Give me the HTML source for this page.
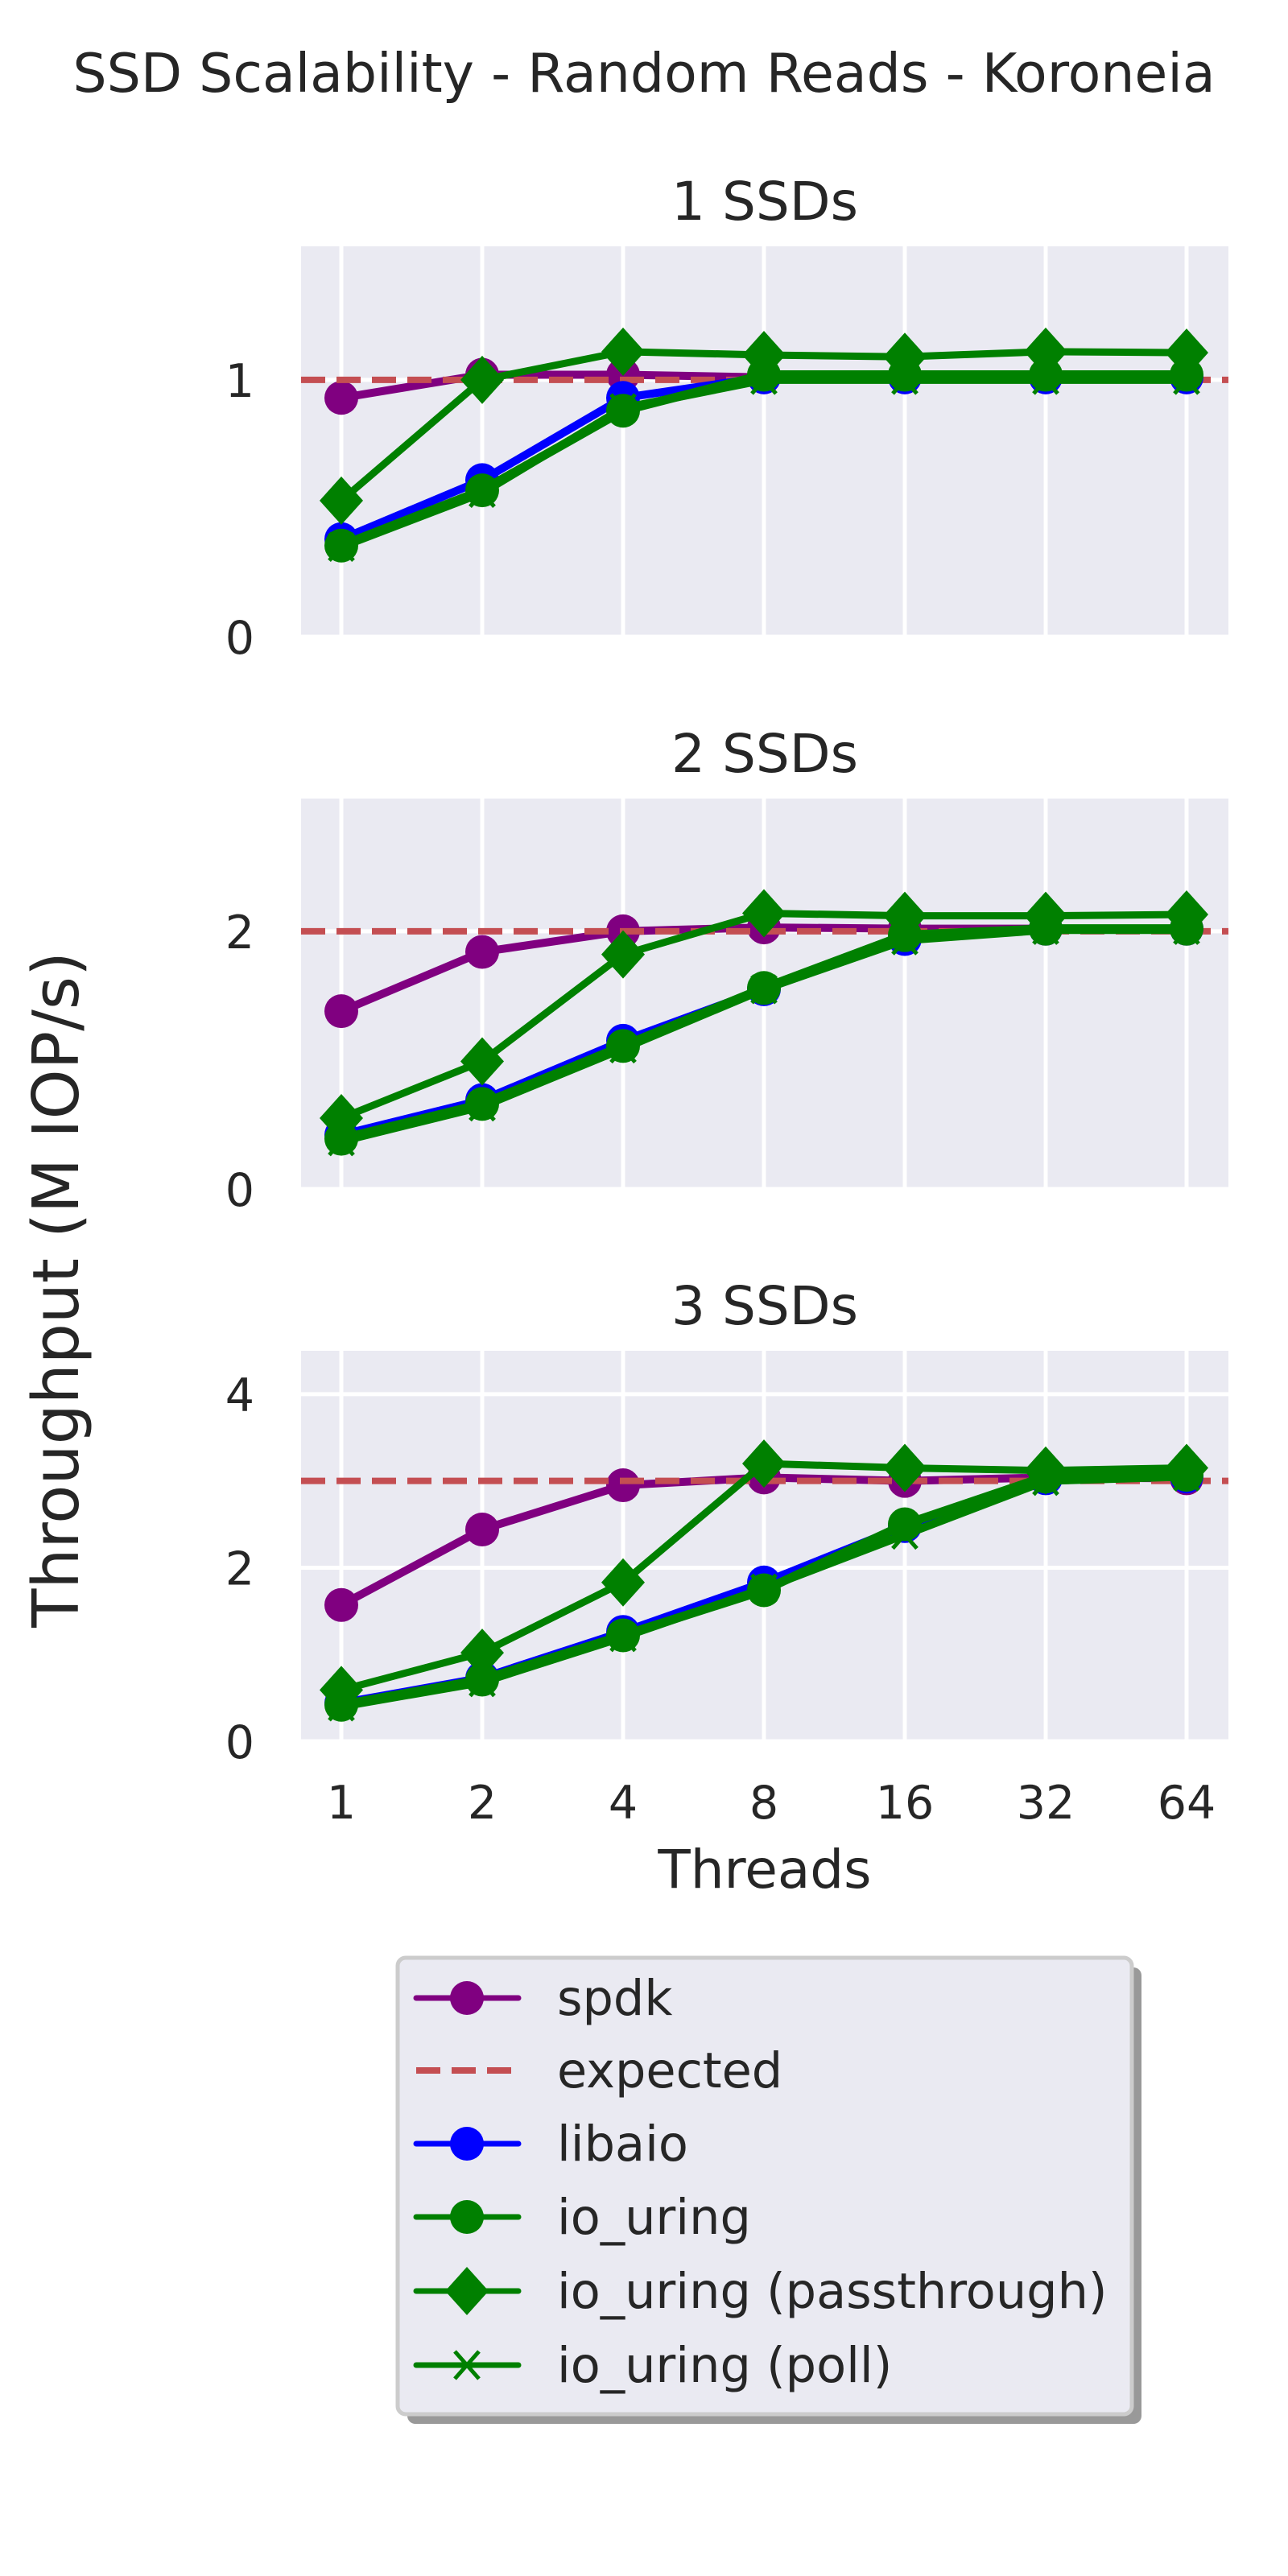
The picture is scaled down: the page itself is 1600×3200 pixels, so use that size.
<!DOCTYPE html>
<html><head><meta charset="utf-8"><style>
body{margin:0;background:#fff}
svg{display:block}
text{font-family:"DejaVu Sans","Liberation Sans",sans-serif;fill:#262626}
</style></head><body>
<svg id="chart" width="1600" height="3200" viewBox="0 0 1600 3200" xmlns="http://www.w3.org/2000/svg">
<text x="800" y="114" font-size="66.5" text-anchor="middle">SSD Scalability - Random Reads - Koroneia</text>
<text transform="translate(70,1602) rotate(-90)" font-size="79" text-anchor="middle" dominant-baseline="central">Throughput (M IOP/s)</text>
<text x="950" y="2345" font-size="66" text-anchor="middle">Threads</text>
<g id="panels"></g>
<g id="legend"></g>
</svg>
<script>
const categories = ["1","2","4","8","16","32","64"];
const panelTitles = ["1 SSDs","2 SSDs","3 SSDs"];
const yMax = [1.52, 3.03, 4.5];
const yTicks = [[0,1],[0,2],[0,2,4]];
const expected = [1, 2, 3];
const spdk = [
 [0.93,1.02,1.02,1.01,1.01,1.01,1.01],
 [1.38,1.84,2.0,2.03,2.02,2.02,2.02],
 [1.57,2.44,2.95,3.04,3.0,3.04,3.03]];
const libaio = [
 [0.38,0.61,0.93,1.01,1.01,1.01,1.01],
 [0.42,0.69,1.15,1.55,1.94,2.02,2.02],
 [0.44,0.73,1.26,1.83,2.48,3.03,3.05]];
const iouring = [
 [0.355,0.57,0.88,1.02,1.02,1.02,1.02],
 [0.39,0.66,1.11,1.56,1.97,2.02,2.02],
 [0.42,0.71,1.22,1.74,2.5,3.05,3.07]];
const passthrough = [
 [0.53,1.0,1.11,1.097,1.09,1.11,1.106],
 [0.55,0.99,1.82,2.14,2.12,2.12,2.13],
 [0.59,1.02,1.83,3.2,3.15,3.12,3.15]];
const poll = [
 [0.35,0.56,0.89,1.0,1.0,1.0,1.0],
 [0.37,0.64,1.09,1.55,1.93,2.01,2.01],
 [0.4,0.68,1.2,1.76,2.38,3.0,3.05]];

const NS="http://www.w3.org/2000/svg";
const PL=374, PR=1526, PH=485, panelTops=[306,992,1678];
function mk(tag, attrs, parent){const e=document.createElementNS(NS,tag);for(const k in attrs)e.setAttribute(k,attrs[k]);parent.appendChild(e);return e;}
function xPos(i){return PL+50+i*(PR-PL-102)/(categories.length-1);}
const panels=document.getElementById('panels');

function marker(g,type,x,y,color){
  let m;
  if(type==='o'){m=mk('ellipse',{cx:x,cy:y,rx:21,ry:21,fill:color},g);}
  else if(type==='d'){m=mk('polygon',{points:`${x},${y-30} ${x+27},${y} ${x},${y+30} ${x-27},${y}`,fill:color},g);}
  else {m=mk('path',{d:`M${x-15},${y-17}L${x+15},${y+17}M${x-15},${y+17}L${x+15},${y-17}`,stroke:color,'stroke-width':5,fill:'none'},g);}
  return m;
}
function series(g,vals,yS,color,mtype,lw,name){
  const sg=mk('g',{},g);
  
  
  const pts=vals.map((v,i)=>xPos(i)+','+yS(v)).join(' ');
  mk('polyline',{points:pts,fill:'none',stroke:color,'stroke-width':lw,'stroke-linejoin':'round'},sg);
  vals.forEach((v,i)=>{const m=marker(sg,mtype,xPos(i),yS(v),color);
    
    });
}

panelTitles.forEach((t,p)=>{
  const top=panelTops[p], bot=top+PH;
  const yS=v=>bot-v/yMax[p]*PH;
  const g=mk('g',{},panels);
  
  
  const bg=mk('rect',{x:PL,y:top,width:PR-PL,height:PH,fill:'#EAEAF2'},g);
  
  
  categories.forEach((c,i)=>{mk('line',{x1:xPos(i),x2:xPos(i),y1:top,y2:bot,stroke:'#fff','stroke-width':5},g);});
  yTicks[p].forEach(v=>{
    mk('line',{x1:PL,x2:PR,y1:yS(v),y2:yS(v),stroke:'#fff','stroke-width':5},g);
    const tl=mk('text',{x:316,y:yS(v)+21,'font-size':57,'text-anchor':'end'},g);
    tl.textContent=v;
    
    
  });
  const tt=mk('text',{x:(PL+PR)/2,y:top-33,'font-size':66,'text-anchor':'middle'},g);
  tt.textContent=t;
  
  
  series(g,spdk[p],yS,'#800080','o',10,'spdk-line');
  const ex=mk('line',{x1:PL,x2:PR,y1:yS(expected[p]),y2:yS(expected[p]),stroke:'#C44E52','stroke-width':8,'stroke-dasharray':'30 14'},g);
  
  
  series(g,libaio[p],yS,'#0000FF','o',10,'libaio-line');
  series(g,iouring[p],yS,'#008000','o',11,'io-uring-line');
  series(g,passthrough[p],yS,'#008000','d',9,'io-uring-passthrough-line');
  series(g,poll[p],yS,'#008000','x',10,'io-uring-poll-line');
  if(p===2){
    categories.forEach((c,i)=>{
      const xl=mk('text',{x:xPos(i),y:2259,'font-size':57,'text-anchor':'middle'},g);
      xl.textContent=c;
      
      
    });
  }
});

// legend
const lg=document.getElementById('legend');
mk('rect',{x:506,y:2444,width:912,height:567,rx:10,fill:'#999'},lg);
const box=mk('rect',{x:494,y:2432,width:912,height:567,rx:10,fill:'#EAEAF2',stroke:'#cccccc','stroke-width':5},lg);


const legLabels=["spdk","expected","libaio","io_uring","io_uring (passthrough)","io_uring (poll)"];
const legColors=['#800080','#C44E52','#0000FF','#008000','#008000','#008000'];
const legMarkers=['o','-','o','o','d','x'];
const legY=[2482,2572,2663,2754,2846,2938];
legLabels.forEach((l,i)=>{
  const eg=mk('g',{},lg);
  
  
  const y=legY[i];
  if(legMarkers[i]==='-'){
    mk('line',{x1:517,x2:644,y1:y,y2:y,stroke:legColors[i],'stroke-width':8,'stroke-dasharray':'30 14'},eg);
  } else {
    mk('line',{x1:517,x2:644,y1:y,y2:y,stroke:legColors[i],'stroke-width':7,'stroke-linecap':'round'},eg);
    marker(eg,legMarkers[i],580,y,legColors[i]);
  }
  const tx=mk('text',{x:692,y:y+21,'font-size':60.5},eg);
  tx.textContent=l;
});
</script>
</body></html>
